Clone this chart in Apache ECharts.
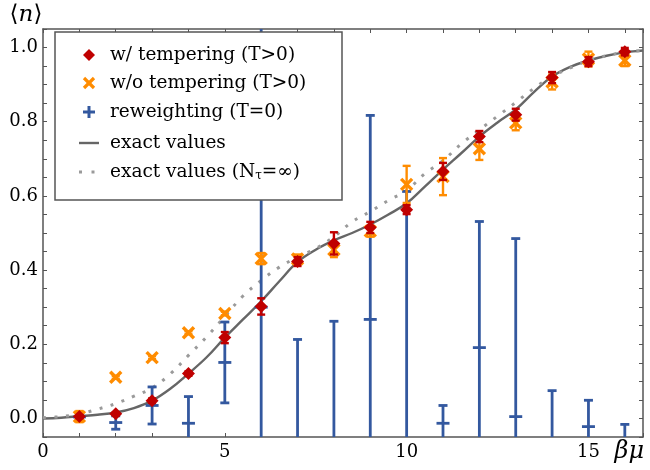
<!DOCTYPE html>
<html><head><meta charset="utf-8">
<script src="https://cdn.jsdelivr.net/npm/echarts@6/dist/echarts.min.js"></script>
<style>html,body{margin:0;padding:0;background:#fff}#c{width:650px;height:470px}</style>
</head><body><div id="c"></div>
<script>
// ---- data ----
const betaMu = [1,2,3,4,5,6,7,8,9,10,11,12,13,14,15,16];
const withTempY   = [0.005,0.013,0.048,0.121,0.218,0.302,0.423,0.472,0.515,0.563,0.666,0.760,0.819,0.919,0.962,0.989];
const withTempErr = [0.004,0.004,0.006,0.006,0.015,0.022,0.012,0.030,0.015,0.012,0.023,0.015,0.016,0.015,0.012,0.010];
const woTempY     = [0.005,0.111,0.164,0.231,0.283,0.431,0.430,0.455,0.505,0.631,0.652,0.727,0.797,0.907,0.969,0.965];
const woTempErr   = [0.015,0.004,0.004,0.004,0.005,0.015,0.012,0.020,0.015,0.050,0.050,0.030,0.020,0.020,0.020,0.015];
const reweightY   = [0.004,-0.011,0.035,-0.013,0.151,0.300,-0.120,-0.150,0.267,-0.100,-0.013,0.191,0.005,-0.100,-0.022,-0.070];
const reweightErr = [0.004,0.018,0.050,0.072,0.109,0.800,0.333,0.412,0.550,0.712,0.048,0.340,0.480,0.175,0.071,0.054];
const curveX   = [0,0.5,1,1.5,2,2.5,3,3.5,4,4.5,5,5.5,6,6.5,7,7.5,8,8.5,9,9.5,10,10.5,11,11.5,12,12.5,13,13.5,14,14.5,15,15.5,16,16.5];
const exactY   = [0,0.002,0.006,0.010,0.016,0.028,0.048,0.080,0.121,0.165,0.218,0.267,0.316,0.370,0.422,0.455,0.480,0.500,0.523,0.550,0.580,0.625,0.671,0.715,0.760,0.798,0.833,0.880,0.922,0.948,0.965,0.978,0.987,0.992];
const exactInfY= [0.002,0.005,0.012,0.025,0.040,0.060,0.082,0.120,0.170,0.220,0.275,0.330,0.372,0.408,0.435,0.458,0.490,0.530,0.558,0.588,0.615,0.660,0.695,0.740,0.778,0.815,0.852,0.890,0.922,0.945,0.965,0.978,0.987,0.992];
const xTickLabels = ['0','5','10','15'];
const yTickLabels = ['0.0','0.2','0.4','0.6','0.8','1.0'];
const legendNames = ['w/ tempering (T>0)','w/o tempering (T>0)','reweighting (T=0)','exact values','exact values (N{sub|τ}=∞)'];

// ---- style ----
const RED='#c00000', ORANGE='#ff8c00', BLUE='#33589f', GRAY='#666666', LGRAY='#9a9a9a';
const FONT='DejaVu Serif';

function zip3(a,b,c){return a.map((v,i)=>[v,b[i],c[i]]);}
function zip2(a,b){return a.map((v,i)=>[v,b[i]]);}

function makeRender(kind){
  return function(params, api){
    const x=api.value(0), y=api.value(1), e=api.value(2);
    const cs=params.coordSys, top=cs.y, bot=cs.y+cs.height;
    const p=api.coord([x,y]), pt=api.coord([x,y+e]), pb=api.coord([x,y-e]);
    const color = kind==='red'?RED:(kind==='orange'?ORANGE:BLUE);
    const lw = kind==='blue'?2.8:2.4;
    const capW = kind==='blue'?9:8;
    const st={stroke:color,lineWidth:lw};
    const ch=[];
    const y1=Math.max(pt[1],top), y2=Math.min(pb[1],bot);
    if(y2>y1) ch.push({type:'line',shape:{x1:p[0],y1:y1,x2:p[0],y2:y2},style:st});
    [pt[1],pb[1]].forEach(yy=>{ if(yy>=top-0.5 && yy<=bot+0.5) ch.push({type:'line',shape:{x1:p[0]-capW/2,y1:yy,x2:p[0]+capW/2,y2:yy},style:st}); });
    if(p[1]>=top && p[1]<=bot){
      if(kind==='blue'){
        ch.push({type:'line',shape:{x1:p[0]-6.5,y1:p[1],x2:p[0]+6.5,y2:p[1]},style:st});
      } else if(kind==='orange'){
        const s=5.5, sto={stroke:ORANGE,lineWidth:3.4};
        ch.push({type:'line',shape:{x1:p[0]-s,y1:p[1]-s,x2:p[0]+s,y2:p[1]+s},style:sto});
        ch.push({type:'line',shape:{x1:p[0]-s,y1:p[1]+s,x2:p[0]+s,y2:p[1]-s},style:sto});
      } else {
        const s=6.5;
        ch.push({type:'polygon',shape:{points:[[p[0],p[1]-s],[p[0]+s,p[1]],[p[0],p[1]+s],[p[0]-s,p[1]]]},style:{fill:RED}});
      }
    }
    return {type:'group',children:ch};
  };
}

const axisColor='#555';
function xAx(pos){return {type:'value',min:0,max:16.5,interval:1,position:pos,
  axisLine:{show:true,onZero:false,lineStyle:{color:axisColor,width:1.5}},
  axisTick:{show:true,inside:true,length:4,lineStyle:{color:axisColor,width:1}},
  axisLabel:{show:pos==='bottom',margin:6,color:'#000',fontFamily:FONT,fontSize:18,
    formatter:v=>{const i=xTickLabels.indexOf(String(v));return i>=0?xTickLabels[i]:'';}},
  splitLine:{show:false}};}
function yAx(pos){return {type:'value',min:-0.05,max:1.05,interval:0.05,position:pos,
  axisLine:{show:true,onZero:false,lineStyle:{color:axisColor,width:1.5}},
  axisTick:{show:true,inside:true,length:4,lineStyle:{color:axisColor,width:1}},
  axisLabel:{show:pos==='left',margin:5,color:'#000',fontFamily:FONT,fontSize:18,
    formatter:v=>{const r=Math.round(v*100); if(r%20!==0||r<0) return ''; return yTickLabels[r/20]||'';}},
  splitLine:{show:false}};}

const LX=55, LY=32, LW=287, LH=168, IX=89, TX=110;
const rows=[55,83,112,143,172];
const legendGraphics=[
  {type:'rect',shape:{x:LX,y:LY,width:LW,height:LH},style:{fill:'#fff',stroke:axisColor,lineWidth:1.5},z:100},
  {type:'polygon',shape:{points:[[IX,rows[0]-6],[IX+6,rows[0]],[IX,rows[0]+6],[IX-6,rows[0]]]},style:{fill:RED},z:101},
  {type:'line',shape:{x1:IX-5,y1:rows[1]-5,x2:IX+5,y2:rows[1]+5},style:{stroke:ORANGE,lineWidth:3.2},z:101},
  {type:'line',shape:{x1:IX-5,y1:rows[1]+5,x2:IX+5,y2:rows[1]-5},style:{stroke:ORANGE,lineWidth:3.2},z:101},
  {type:'line',shape:{x1:IX-6,y1:rows[2],x2:IX+6,y2:rows[2]},style:{stroke:BLUE,lineWidth:3},z:101},
  {type:'line',shape:{x1:IX,y1:rows[2]-6,x2:IX,y2:rows[2]+6},style:{stroke:BLUE,lineWidth:3},z:101},
  {type:'line',shape:{x1:IX-10,y1:rows[3],x2:IX+10,y2:rows[3]},style:{stroke:GRAY,lineWidth:2.4},z:101},
  {type:'line',shape:{x1:IX-10,y1:rows[4],x2:IX+10,y2:rows[4]},style:{stroke:LGRAY,lineWidth:3,lineDash:[3,9.5]},z:101}
];
legendNames.forEach((n,i)=>{
  legendGraphics.push({type:'text',x:TX,y:rows[i],z:101,style:{text:n,fill:'#000',font:'18.5px "'+FONT+'"',verticalAlign:'middle',align:'left',
    rich:{sub:{fontSize:12,fontFamily:FONT,verticalAlign:'bottom',padding:[8,0,0,0]}}}});
});
legendGraphics.push({type:'text',x:26,y:15,style:{text:'⟨{i|n}⟩',fill:'#000',font:'23px "'+FONT+'"',align:'center',verticalAlign:'middle',
  rich:{i:{fontStyle:'italic',fontSize:23,fontFamily:FONT}}}});
legendGraphics.push({type:'text',x:644,y:452,style:{text:'βμ',fill:'#000',font:'italic 24px "'+FONT+'"',align:'right',verticalAlign:'middle'}});

const chart=echarts.init(document.getElementById('c'),null,{renderer:'canvas'});
chart.setOption({
  animation:false,
  backgroundColor:'#fff',
  grid:{left:43,right:7,top:29,bottom:33,containLabel:false},
  xAxis:[xAx('bottom'),xAx('top')],
  yAxis:[yAx('left'),yAx('right')],
  graphic:legendGraphics,
  series:[
    {name:'exact values',type:'line',data:zip2(curveX,exactY),smooth:0.4,symbol:'none',lineStyle:{color:GRAY,width:2.4},z:2},
    {name:'exact values (Nτ=∞)',type:'line',data:zip2(curveX,exactInfY),smooth:0.4,symbol:'none',lineStyle:{color:LGRAY,width:3,type:[3,8.5]},z:2},
    {name:'reweighting (T=0)',type:'custom',data:zip3(betaMu,reweightY,reweightErr),renderItem:makeRender('blue'),clip:true,z:3},
    {name:'w/o tempering (T>0)',type:'custom',data:zip3(betaMu,woTempY,woTempErr),renderItem:makeRender('orange'),clip:true,z:4},
    {name:'w/ tempering (T>0)',type:'custom',data:zip3(betaMu,withTempY,withTempErr),renderItem:makeRender('red'),clip:true,z:5}
  ]
});
</script></body></html>
